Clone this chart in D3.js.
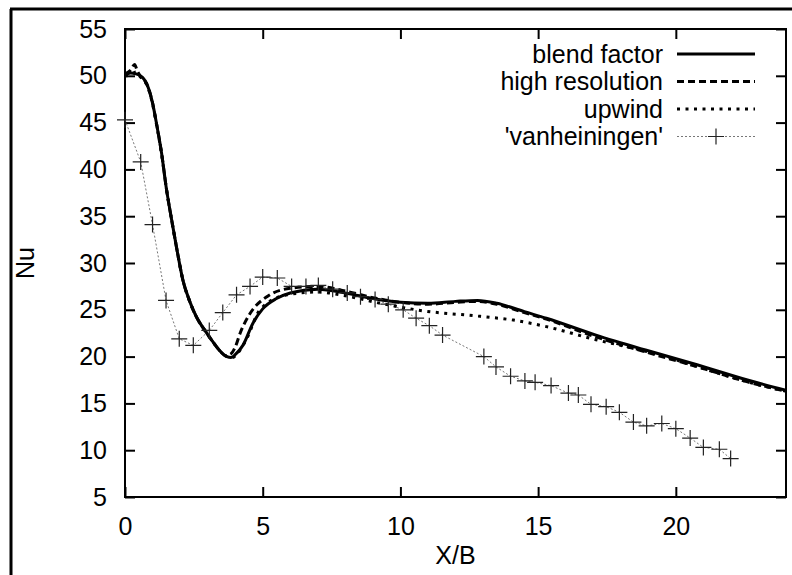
<!DOCTYPE html>
<html>
<head>
<meta charset="utf-8">
<script src="https://cdn.jsdelivr.net/npm/d3@7"></script>
<style>
  body { margin: 0; background: #fff; }
  svg { display: block; font-family: "Liberation Sans", Arial, sans-serif; }
</style>
</head>
<body>
<div id="chart"></div>
<script>
// data: [X/B, Nu]
const blendFactor = [
  [0, 50.1], [0.2, 50.3], [0.4, 50.2], [0.55, 50.0], [0.7, 49.6], [0.85, 48.7],
  [1.0, 47.1], [1.15, 44.8], [1.33, 41.7], [1.5, 38.0], [1.7, 34.5], [1.9, 31.2],
  [2.1, 28.2], [2.35, 25.9], [2.6, 24.2], [2.9, 22.8], [3.16, 21.7], [3.45, 20.6],
  [3.7, 20.0], [3.85, 19.9], [4.0, 20.2], [4.28, 21.2], [4.65, 23.6], [5.0, 25.1],
  [5.5, 26.2], [6.0, 26.8], [7.0, 27.2], [8.0, 26.8], [9.0, 26.2], [10.0, 25.8],
  [11.0, 25.7], [12.0, 25.9], [12.8, 26.0], [13.5, 25.7], [14.5, 24.8], [15.3, 24.1],
  [17.1, 22.3], [18.9, 20.7], [20.8, 19.1], [22.6, 17.5], [24, 16.4]
];
const highResolution = [
  [0, 50.2], [0.2, 50.6], [0.35, 51.2], [0.45, 50.5], [0.55, 50.0], [0.7, 49.6],
  [0.85, 48.7], [1.0, 47.1], [1.15, 44.8], [1.33, 41.7], [1.5, 38.0], [1.7, 34.5],
  [1.9, 31.2], [2.1, 28.2], [2.35, 25.9], [2.6, 24.2], [2.9, 22.8], [3.16, 21.7],
  [3.45, 20.6], [3.65, 20.1], [3.85, 20.3], [4.0, 21.0], [4.18, 22.5], [4.54, 24.6],
  [5.15, 26.4], [6.0, 27.3], [7.0, 27.5], [8.0, 27.0], [9.0, 26.3], [10.0, 25.8],
  [11.0, 25.6], [12.0, 25.8], [12.8, 25.9], [13.5, 25.6], [14.5, 24.7], [15.3, 24.0],
  [17.1, 22.1], [18.9, 20.5], [20.8, 18.9], [22.6, 17.3], [24, 16.3]
];
const upwind = [
  [0, 50.0], [0.2, 50.1], [0.4, 50.4], [0.55, 49.9], [0.7, 49.5], [0.85, 48.6],
  [1.0, 47.0], [1.15, 44.7], [1.33, 41.6], [1.5, 38.0], [1.7, 34.5], [1.9, 31.2],
  [2.1, 28.2], [2.35, 25.9], [2.6, 24.2], [2.9, 22.8], [3.16, 21.7], [3.45, 20.6],
  [3.7, 20.0], [3.9, 19.9], [4.1, 20.4], [4.4, 21.8], [4.9, 25.0], [5.88, 26.6],
  [7.0, 26.9], [8.0, 26.5], [9.26, 25.7], [10.8, 24.9], [12.9, 24.3], [14.1, 23.9],
  [15.3, 23.2], [17.1, 21.8], [18.3, 21.0], [19.5, 20.1], [20.8, 18.9], [22.6, 17.3],
  [24, 16.3]
];
const vanheiningen = [
  [0, 45.3], [0.57, 40.8], [1.0, 34.1], [1.49, 26.0], [1.97, 21.9], [2.48, 21.2],
  [3.06, 22.8], [3.55, 24.7], [4.05, 26.6], [4.54, 27.5], [5.0, 28.5], [5.53, 28.4],
  [6.05, 27.5], [6.57, 27.5], [7.02, 27.6], [7.54, 27.2], [8.07, 26.8], [8.55, 26.4],
  [9.08, 26.1], [9.56, 25.6], [10.1, 25.0], [10.57, 24.1], [11.05, 23.3], [11.53, 22.3],
  [13.03, 20.0], [13.47, 18.9], [14.0, 17.9], [14.52, 17.4], [14.89, 17.25], [15.47, 16.9],
  [16.1, 16.1], [16.46, 15.9], [16.92, 14.9], [17.47, 14.65], [17.95, 14.05], [18.46, 13.0],
  [18.94, 12.6], [19.49, 12.85], [20.0, 12.3], [20.52, 11.3], [21.0, 10.3], [21.58, 10.1],
  [21.99, 9.1]
];

const xTicks = [0, 5, 10, 15, 20];
const yTicks = [5, 10, 15, 20, 25, 30, 35, 40, 45, 50, 55];
const legendNames = ["blend factor", "high resolution", "upwind", "'vanheiningen'"];

const margin = { top: 29, right: 6, bottom: 78, left: 125 },
    width = 792 - margin.left - margin.right,
    height = 575 - margin.top - margin.bottom;

const root = d3.select("#chart")
    .append("svg")
    .attr("width", 792)
    .attr("height", 575);

// page frame lines (top and left)
root.append("line").attr("x1", 10).attr("x2", 792).attr("y1", 9).attr("y2", 9)
    .attr("stroke", "#000").attr("stroke-width", 3);
root.append("line").attr("x1", 11).attr("x2", 11).attr("y1", 9).attr("y2", 575)
    .attr("stroke", "#000").attr("stroke-width", 3);

const svg = root.append("g")
    .attr("transform", `translate(${margin.left},${margin.top})`);

const x = d3.scaleLinear().domain([0, 24]).range([0, width]);
const y = d3.scaleLinear().domain([5, 55]).range([height, 0]);

svg.append("defs").append("clipPath").attr("id", "plotclip")
    .append("rect").attr("width", width).attr("height", height);

// axes, ticks pointing inwards, mirrored on top/right
const styleAxis = g => {
    g.select(".domain").remove();
    g.selectAll(".tick line").attr("stroke", "#000").attr("stroke-width", 2);
    g.selectAll("text").attr("font-size", 25).attr("fill", "#000")
        .attr("font-family", "'Liberation Sans', Arial, sans-serif");
};

svg.append("g")
    .attr("transform", `translate(0,${height})`)
    .call(d3.axisBottom(x).tickValues(xTicks).tickSize(-10).tickPadding(20))
    .call(styleAxis);
svg.append("g")
    .call(d3.axisTop(x).tickValues(xTicks).tickSize(-10).tickFormat(""))
    .call(styleAxis);
svg.append("g")
    .call(d3.axisLeft(y).tickValues(yTicks).tickSize(-10).tickPadding(18))
    .call(styleAxis);
svg.append("g")
    .attr("transform", `translate(${width},0)`)
    .call(d3.axisRight(y).tickValues(yTicks).tickSize(-10).tickFormat(""))
    .call(styleAxis);

svg.append("rect")
    .attr("width", width).attr("height", height)
    .attr("fill", "none").attr("stroke", "#000").attr("stroke-width", 2);

// axis titles
svg.append("text")
    .attr("x", width / 2).attr("y", height + 67)
    .attr("text-anchor", "middle").attr("font-size", 25)
    .text("X/B");
svg.append("text")
    .attr("transform", `translate(${25 - margin.left},${height / 2}) rotate(-90)`)
    .attr("dy", "0.35em")
    .attr("text-anchor", "middle").attr("font-size", 25)
    .text("Nu");

const smooth = d3.line().x(d => x(d[0])).y(d => y(d[1])).curve(d3.curveMonotoneX);
const straight = d3.line().x(d => x(d[0])).y(d => y(d[1]));

const series = [
    { data: upwind, dash: "3,5.5" },
    { data: highResolution, dash: "7,4" },
    { data: blendFactor, dash: null }
];

const lines = svg.append("g").attr("clip-path", "url(#plotclip)");

lines.append("path")
    .attr("d", straight(vanheiningen))
    .attr("fill", "none").attr("stroke", "#777")
    .attr("stroke-width", 1).attr("stroke-dasharray", "2,2");

series.forEach(s => {
    lines.append("path")
        .attr("d", smooth(s.data))
        .attr("fill", "none").attr("stroke", "#000")
        .attr("stroke-width", 3)
        .attr("stroke-dasharray", s.dash);
});

const cross = (sel, cx, cy) => {
    sel.append("path")
        .attr("d", `M${cx - 8},${cy}H${cx + 8}M${cx},${cy - 8}V${cy + 8}`)
        .attr("stroke", "#222").attr("stroke-width", 1.2).attr("fill", "none");
};
const marks = svg.append("g");
vanheiningen.forEach(d => cross(marks, x(d[0]), y(d[1])));

// legend
const legendStyles = [
    { dash: null, w: 3, c: "#000" },
    { dash: "7,4", w: 3, c: "#000" },
    { dash: "3,5.5", w: 3, c: "#000" },
    { dash: "2,2", w: 1, c: "#777" }
];
const legend = root.append("g");
legendNames.forEach((name, i) => {
    const ly = 54 + i * 27.5;
    legend.append("text")
        .attr("x", 663).attr("y", ly).attr("dy", "0.35em")
        .attr("text-anchor", "end").attr("font-size", 25)
        .text(name);
    legend.append("line")
        .attr("x1", 677).attr("x2", 755).attr("y1", ly).attr("y2", ly)
        .attr("stroke", legendStyles[i].c)
        .attr("stroke-width", legendStyles[i].w)
        .attr("stroke-dasharray", legendStyles[i].dash);
    if (i === 3) cross(legend, 716, ly);
});
</script>
</body>
</html>
